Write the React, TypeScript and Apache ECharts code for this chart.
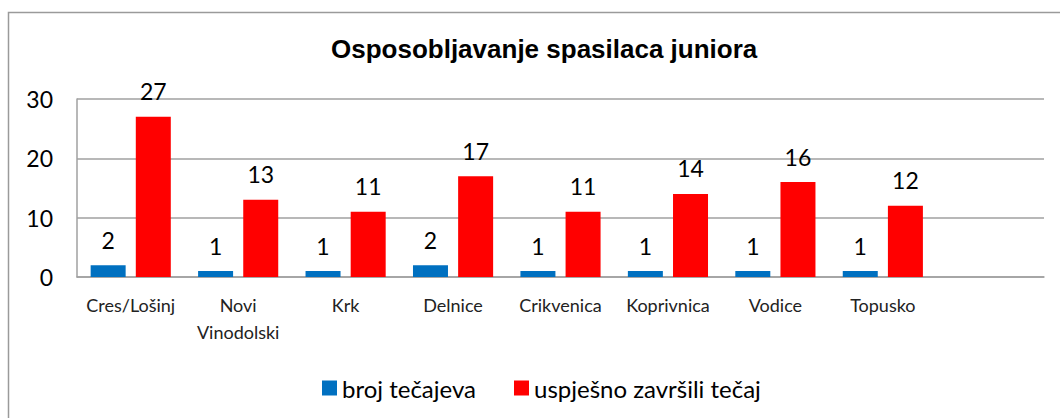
import React, { useEffect, useRef } from "react";
import * as echarts from "echarts";

const categories = ["Cres/Lošinj", "Novi\nVinodolski", "Krk", "Delnice", "Crikvenica", "Koprivnica", "Vodice", "Topusko", ""];
const brojTecajeva = [2, 1, 1, 2, 1, 1, 1, 1];
const uspjesnoZavrsili = [27, 13, 11, 17, 11, 14, 16, 12];
const seriesNames = ["broj tečajeva", "uspješno završili tečaj"];
const yTicks = { min: 0, max: 30, interval: 10 };

const FONT = "Lato, sans-serif";

export default function App() {
  const ref = useRef<HTMLDivElement>(null);
  useEffect(() => {
    if (!ref.current) return;
    const chart = echarts.init(ref.current, undefined, { renderer: "svg" });
    chart.setOption({
      animation: false,
      backgroundColor: "#ffffff",
      title: {
        text: "Osposobljavanje spasilaca juniora",
        left: 326,
        top: 31,
        textStyle: { fontFamily: "Liberation Sans, Arial, sans-serif", fontWeight: "bold", fontSize: 26, color: "#000" },
      },
      graphic: [
        {
          type: "rect",
          shape: { x: 8.5, y: 12.5, width: 1080, height: 430 },
          style: { fill: "none", stroke: "#9a9a9a", lineWidth: 1.5 },
          silent: true,
        },
      ],
      legend: {
        top: 371,
        left: 317,
        itemWidth: 15,
        itemHeight: 15,
        itemGap: 38,
        icon: "rect",
        textStyle: { fontFamily: FONT, fontSize: 24, color: "#000", padding: [0, 0, 0, 0] },
        data: seriesNames,
      },
      grid: { left: 77, right: 16, top: 99, bottom: 141 },
      xAxis: {
        type: "category",
        data: categories,
        axisLine: { lineStyle: { color: "#a0a0a0", width: 1.5 } },
        axisTick: { show: false },
        axisLabel: { fontFamily: FONT, fontSize: 18, color: "#222", margin: 14, lineHeight: 27, interval: 0 },
      },
      yAxis: {
        type: "value",
        min: yTicks.min,
        max: yTicks.max,
        interval: yTicks.interval,
        axisLine: { show: true, lineStyle: { color: "#a0a0a0", width: 1.5 } },
        axisTick: { show: false },
        splitLine: { lineStyle: { color: "#a0a0a0", width: 1.5 } },
        axisLabel: { fontFamily: FONT, fontSize: 23, color: "#000", margin: 24 },
      },
      series: [
        {
          name: seriesNames[0],
          type: "bar",
          data: brojTecajeva,
          barWidth: 35,
          barGap: "29%",
          itemStyle: { color: "#0070C0" },
          label: { show: true, position: "top", distance: 14, fontFamily: FONT, fontSize: 23, color: "#000" },
        },
        {
          name: seriesNames[1],
          type: "bar",
          data: uspjesnoZavrsili,
          barWidth: 35,
          barGap: "29%",
          itemStyle: { color: "#FF0000" },
          label: { show: true, position: "top", distance: 14, fontFamily: FONT, fontSize: 23, color: "#000" },
        },
      ],
    });
    return () => chart.dispose();
  }, []);
  return <div ref={ref} style={{ position: "absolute", left: 0, top: 0, width: 1060, height: 418 }} />;
}
